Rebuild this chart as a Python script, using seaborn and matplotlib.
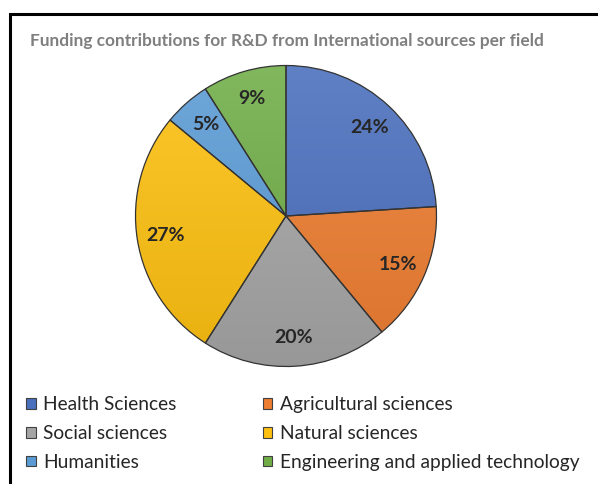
import matplotlib.pyplot as plt
import matplotlib.colors as mcolors
import seaborn as sns
import numpy as np
from matplotlib.patches import Rectangle, Patch

sns.set_theme(style="white")
plt.rcParams["font.family"] = ["Lato", "DejaVu Sans"]

fields = [
    "Health Sciences",
    "Agricultural sciences",
    "Social sciences",
    "Natural sciences",
    "Humanities",
    "Engineering and applied technology",
]
shares = [24, 15, 20, 27, 5, 9]
colors = ["#4a6fbd", "#ed7d31", "#a5a5a5", "#fdc010", "#5b9bd5", "#70ad47"]

W, H = 598, 484
fig = plt.figure(figsize=(W / 100, H / 100), dpi=100)

# outer frame (cut off on right and bottom like the source)
fig.patches.append(Rectangle((10 / W, -0.1), 1.2, 1 - 14 / H + 0.1,
                             transform=fig.transFigure, fill=False,
                             edgecolor="black", linewidth=2.2, zorder=0))

fig.text(30 / W, 1 - 41 / H, "Funding contributions for R&D from International sources per field",
         fontsize=12.4, fontweight="bold", color="#7f7f7f", va="center", ha="left")

cx, cy, r = 286, 216, 152
ax = fig.add_axes([(cx - r) / W, (H - cy - r) / H, 2 * r / W, 2 * r / H])
wedges, texts, autotexts = ax.pie(
    shares, colors=colors, startangle=90, counterclock=False,
    autopct="%1.0f%%", pctdistance=0.81, radius=1,
    wedgeprops=dict(edgecolor="#333333", linewidth=0.9),
    textprops=dict(fontsize=14, fontweight="bold", color="#262626"),
)
ax.set_xlim(-1.01, 1.01)
ax.set_ylim(-1.01, 1.01)
ax.axis("off")

# vertical gradient fill per wedge: lighter on top, darker at bottom
t = np.linspace(0, 1, 256)[:, None]
for w, c in zip(wedges, colors):
    base = np.array(mcolors.to_rgb(c))
    top = base + (1 - base) * 0.12
    bot = base * 0.92
    grad = top[None, None, :] * (1 - t[..., None]) + bot[None, None, :] * t[..., None]
    grad = np.repeat(grad, 2, axis=1)
    im = ax.imshow(grad, extent=[-1, 1, -1, 1], origin="upper", zorder=0.5, aspect="auto")
    im.set_clip_path(w)
    w.set_facecolor("none")
    w.set_zorder(1)
for a in autotexts:
    a.set_zorder(3)

handles = [Patch(facecolor=c, edgecolor="#404040", linewidth=0.8) for c in colors]
order = [0, 2, 4, 1, 3, 5]
fig.legend([handles[i] for i in order], [fields[i] for i in order],
           ncol=2, loc="upper left", bbox_to_anchor=(26 / W, 1 - 396 / H),
           frameon=False, fontsize=13.8, handlelength=0.5, handleheight=0.5,
           handletextpad=0.4, columnspacing=4.5, labelspacing=0.62,
           borderpad=0, borderaxespad=0, labelcolor="#262626")

fig.savefig("out.png", dpi=100)
